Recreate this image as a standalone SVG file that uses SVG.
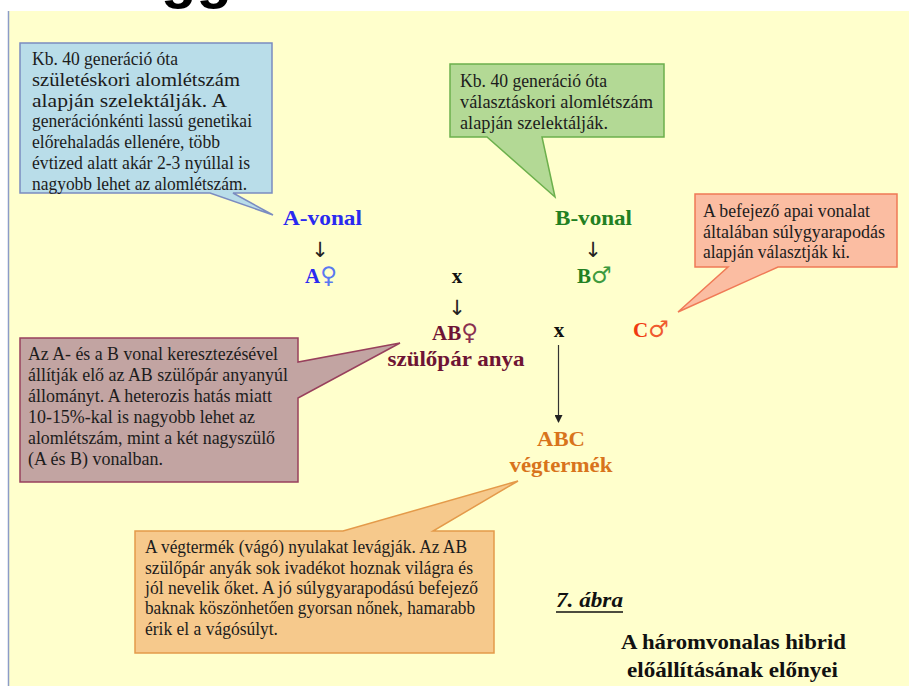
<svg xmlns="http://www.w3.org/2000/svg" width="909" height="686" viewBox="0 0 909 686">
<style>
.bt{font-family:"Liberation Serif","Times New Roman",serif;font-size:19px;fill:#1c1c1c}
.lb{font-family:"Liberation Serif","Times New Roman",serif;font-size:21px;font-weight:bold}
.sym{font-family:"DejaVu Sans",sans-serif;font-weight:normal}
.arr{font-family:"DejaVu Sans",sans-serif;font-size:21px;fill:#222}
</style>
<defs>
<marker id="ah" markerWidth="8" markerHeight="8" refX="7" refY="4" orient="auto" markerUnits="userSpaceOnUse">
<path d="M0,0 L8,4 L0,8 Z" fill="#222"/>
</marker>
</defs>
<rect x="0" y="0" width="909" height="686" fill="#ffffff"/>
<text x="161" y="-3" font-family="Liberation Sans,Arial,sans-serif" font-weight="bold" font-size="58" fill="#000">gg</text>
<rect x="8" y="11" width="901" height="675" fill="#ffffcc"/>
<line x1="8.5" y1="11" x2="8.5" y2="686" stroke="#8c9cc8" stroke-width="1.5"/>

<g id="callout-a">
<path d="M20,43 H272 V193 H233 L273,215 L210,193 H20 Z" fill="#b9dde9" stroke="#7b8cc0" stroke-width="1.5"/>
<text class="bt" x="32" y="65" textLength="146" lengthAdjust="spacingAndGlyphs">Kb. 40 generáció  óta</text>
<text class="bt" x="32" y="86" textLength="208" lengthAdjust="spacingAndGlyphs">születéskori alomlétszám</text>
<text class="bt" x="32" y="107" textLength="195" lengthAdjust="spacingAndGlyphs">alapján szelektálják. A</text>
<text class="bt" x="32" y="127" textLength="220" lengthAdjust="spacingAndGlyphs">generációnkénti lassú genetikai</text>
<text class="bt" x="32" y="148" textLength="188" lengthAdjust="spacingAndGlyphs">előrehaladás ellenére, több</text>
<text class="bt" x="32" y="169" textLength="218" lengthAdjust="spacingAndGlyphs">évtized alatt akár 2-3 nyúllal is</text>
<text class="bt" x="32" y="190" textLength="215" lengthAdjust="spacingAndGlyphs">nagyobb lehet az alomlétszám.</text>
</g>

<g id="callout-b">
<path d="M450,64 H664 V137 H542 L555,197 L487,137 H450 Z" fill="#b3d995" stroke="#6cb04c" stroke-width="1.5"/>
<text class="bt" x="460" y="87" textLength="147" lengthAdjust="spacingAndGlyphs">Kb. 40 generáció  óta</text>
<text class="bt" x="460" y="108" textLength="193" lengthAdjust="spacingAndGlyphs">választáskori alomlétszám</text>
<text class="bt" x="460" y="129" textLength="148" lengthAdjust="spacingAndGlyphs">alapján szelektálják.</text>
</g>

<g id="callout-c">
<path d="M695,194 H897 V267 H778 L678,312 L728,267 H695 Z" fill="#fbbda2" stroke="#f07a56" stroke-width="1.5"/>
<text class="bt" x="703" y="217" textLength="167" lengthAdjust="spacingAndGlyphs">A befejező  apai vonalat</text>
<text class="bt" x="703" y="238" textLength="182" lengthAdjust="spacingAndGlyphs">általában súlygyarapodás</text>
<text class="bt" x="703" y="258" textLength="147" lengthAdjust="spacingAndGlyphs">alapján választják ki.</text>
</g>

<g id="callout-ab">
<path d="M20,338 H298 V362 L400,343 L298,398 V482 H20 Z" fill="#c2a4a2" stroke="#98405c" stroke-width="1.5"/>
<text class="bt" x="28" y="360" textLength="250" lengthAdjust="spacingAndGlyphs">Az A- és a B vonal keresztezésével</text>
<text class="bt" x="28" y="381" textLength="260" lengthAdjust="spacingAndGlyphs">állítják elő  az AB szülőpár anyanyúl</text>
<text class="bt" x="28" y="402" textLength="244" lengthAdjust="spacingAndGlyphs">állományt. A heterozis hatás miatt</text>
<text class="bt" x="28" y="423" textLength="227" lengthAdjust="spacingAndGlyphs">10-15%-kal is nagyobb lehet  az</text>
<text class="bt" x="28" y="444" textLength="247" lengthAdjust="spacingAndGlyphs">alomlétszám, mint a két nagyszülő</text>
<text class="bt" x="28" y="465" textLength="135" lengthAdjust="spacingAndGlyphs">(A és B) vonalban.</text>
</g>

<g id="callout-abc">
<path d="M135,531 H343 L518,481 L433,531 H494 V653 H135 Z" fill="#f6c98c" stroke="#e49a4a" stroke-width="1.5"/>
<text class="bt" x="145" y="553" textLength="322" lengthAdjust="spacingAndGlyphs">A végtermék (vágó) nyulakat levágják. Az AB</text>
<text class="bt" x="145" y="574" textLength="328" lengthAdjust="spacingAndGlyphs">szülőpár anyák sok ivadékot hoznak világra és</text>
<text class="bt" x="145" y="594" textLength="333" lengthAdjust="spacingAndGlyphs">jól nevelik  őket. A jó  súlygyarapodású befejező</text>
<text class="bt" x="145" y="614" textLength="330" lengthAdjust="spacingAndGlyphs">baknak köszönhetően gyorsan nőnek, hamarabb</text>
<text class="bt" x="145" y="635" textLength="133" lengthAdjust="spacingAndGlyphs">érik el a vágósúlyt.</text>
</g>

<g id="a-vonal">
<text class="lb" x="283" y="225" fill="#2a2af0" textLength="79" lengthAdjust="spacingAndGlyphs">A-vonal</text>
</g>
<g id="a-female">
<text class="lb" x="305" y="283" fill="#2a2af0">A<tspan class="sym" fill="#5a78f0" font-size="23">♀</tspan></text>
</g>
<g id="b-vonal">
<text class="lb" x="555" y="225" fill="#228022" textLength="77" lengthAdjust="spacingAndGlyphs">B-vonal</text>
</g>
<g id="b-male">
<text class="lb" x="577" y="283" fill="#228022">B<tspan class="sym" fill="#3e9a3e" font-size="23">♂</tspan></text>
</g>
<g id="cross-ab">
<text class="lb" x="457" y="283" fill="#111" text-anchor="middle">x</text>
</g>
<g id="ab-female">
<text class="lb" x="432" y="340" fill="#6e1434">AB<tspan class="sym" fill="#8a3050" font-size="23">♀</tspan></text>
<text class="lb" x="456" y="366" fill="#6e1434" text-anchor="middle" textLength="137" lengthAdjust="spacingAndGlyphs">szülőpár anya</text>
</g>
<g id="cross-c">
<text class="lb" x="559" y="337" fill="#111" text-anchor="middle" font-size="19">x</text>
</g>
<g id="c-male">
<text class="lb" x="633" y="337" fill="#f03a10">C<tspan class="sym" fill="#f05a30" font-size="23">♂</tspan></text>
</g>
<g id="abc">
<text class="lb" x="561" y="446" fill="#d8741c" text-anchor="middle" textLength="48" lengthAdjust="spacingAndGlyphs">ABC</text>
<text class="lb" x="561" y="472" fill="#d8741c" text-anchor="middle" textLength="103" lengthAdjust="spacingAndGlyphs">végtermék</text>
</g>

<g id="connectors">
<text class="arr" x="320" y="257" text-anchor="middle">↓</text>
<text class="arr" x="593" y="257" text-anchor="middle">↓</text>
<text class="arr" x="457" y="315" text-anchor="middle">↓</text>
<line x1="558.5" y1="345" x2="558.5" y2="422" stroke="#333" stroke-width="1.2" marker-end="url(#ah)"/>
</g>

<g id="caption">
<text x="556" y="607" font-family="Liberation Serif,Times New Roman,serif" font-size="20" font-weight="bold" font-style="italic" fill="#111" textLength="67" lengthAdjust="spacingAndGlyphs">7. ábra</text>
<line x1="556" y1="612" x2="623" y2="612" stroke="#111" stroke-width="1.5"/>
<text class="lb" x="621" y="649" fill="#111" textLength="225" lengthAdjust="spacingAndGlyphs">A háromvonalas hibrid</text>
<text class="lb" x="627" y="677" fill="#111" textLength="211" lengthAdjust="spacingAndGlyphs">előállításának előnyei</text>
</g>
</svg>
